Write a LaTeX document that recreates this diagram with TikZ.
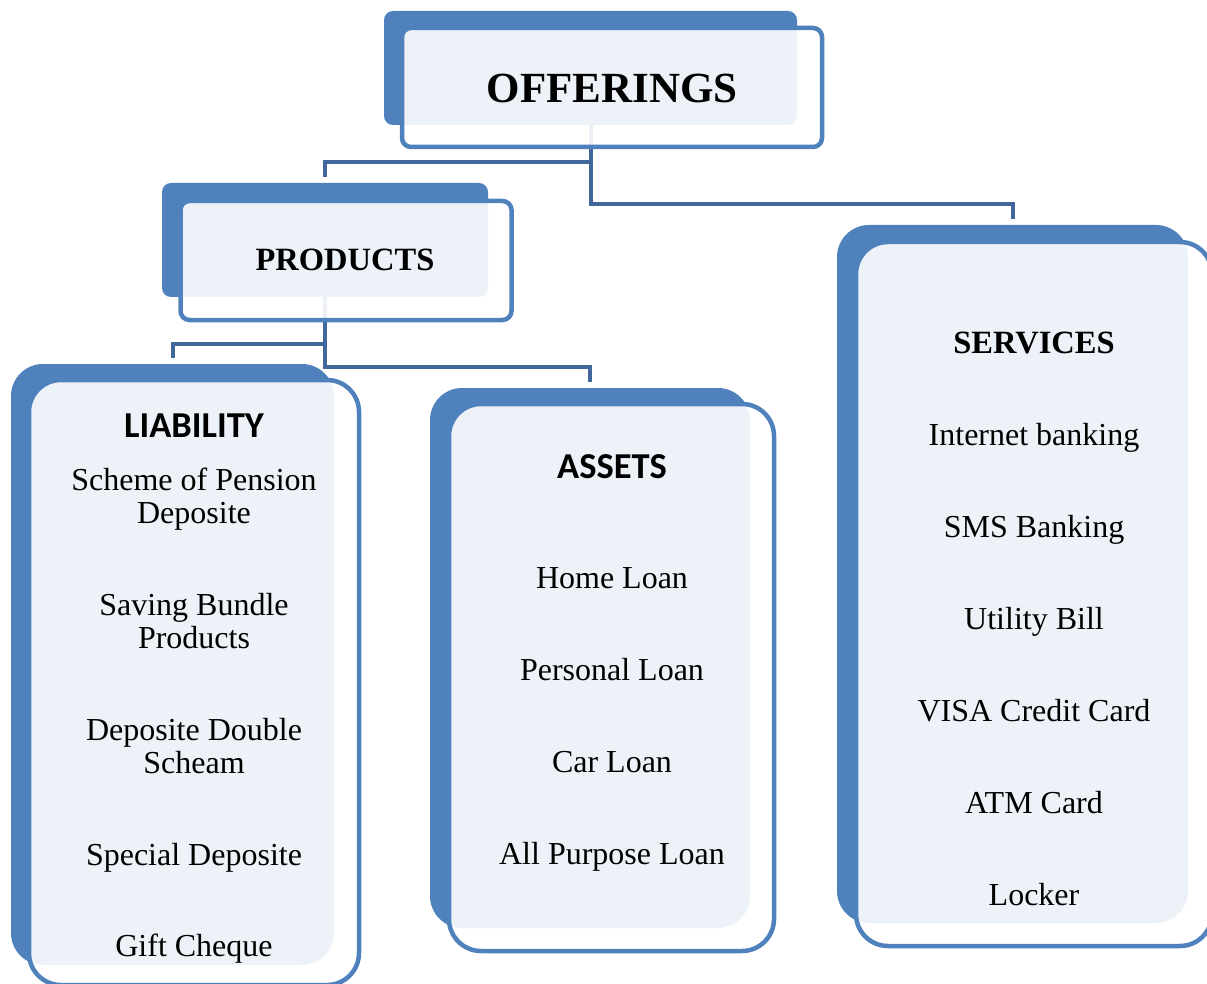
\documentclass[tikz,border=0pt]{standalone}
\usepackage{fontspec}
\setmainfont{Liberation Serif}
\newfontfamily\calibrifont{Carlito}
\usetikzlibrary{calc}
\definecolor{boxblue}{RGB}{79,129,189}
\definecolor{connblue}{RGB}{66,104,155}
\pgfdeclarelayer{bg}
\pgfsetlayers{bg,main}
\begin{document}
\begin{tikzpicture}[x=1pt,y=-1pt,
  backbox/.style={rectangle, fill=boxblue, inner sep=0pt, outer sep=0pt},
  frontbox/.style={rectangle, draw=boxblue, line width=4.5pt, fill=white, fill opacity=0.9, inner sep=0pt, outer sep=0pt},
  smallr/.style={rounded corners=9pt},
  bigr/.style={rounded corners=32pt},
  conn/.style={draw=connblue, line width=4pt},
  item/.style={anchor=base, inner sep=0pt, font=\fontsize{32}{33}\selectfont},
  head/.style={anchor=base, inner sep=0pt, font=\bfseries\fontsize{32.5}{34}\selectfont},
  bighead/.style={anchor=base, inner sep=0pt, font=\bfseries\fontsize{43}{46}\selectfont},
  calhead/.style={anchor=base, inner sep=0pt, font=\calibrifont\bfseries\fontsize{36.5}{40}\selectfont},
]
\useasboundingbox (0,0) rectangle (1207,984);

% OFFERINGS
\node[backbox, smallr, minimum width=413pt, minimum height=114pt] (offB) at (590.5,68) {};
\node[frontbox, smallr, minimum width=420pt, minimum height=119pt] (offF) at (612,87.5) {};
\node[bighead] (offT) at (612,103) {OFFERINGS};

% PRODUCTS
\node[backbox, smallr, minimum width=326pt, minimum height=114pt] (prodB) at (325,240) {};
\node[frontbox, smallr, minimum width=331pt, minimum height=119pt] (prodF) at (346,260.5) {};
\node[head] (prodT) at (345,271) {PRODUCTS};

% LIABILITY
\node[backbox, bigr, minimum width=323pt, minimum height=601pt] (liabB) at (172.5,664.5) {};
\node[frontbox, bigr, minimum width=330pt, minimum height=605pt] (liabF) at (194,682.5) {};
\node[calhead] (liabT) at (194,437.5) {LIABILITY};
\node[item] (l1) at (194,523) {\begin{tabular}[b]{@{}c@{}}Scheme of Pension\\Deposite\end{tabular}};
\node[item] (l2) at (194,648) {\begin{tabular}[b]{@{}c@{}}Saving Bundle\\Products\end{tabular}};
\node[item] (l3) at (194,773) {\begin{tabular}[b]{@{}c@{}}Deposite Double\\Scheam\end{tabular}};
\node[item] (l4) at (194,865.5) {Special Deposite};
\node[item] (l5) at (194,956.5) {Gift Cheque};

% ASSETS
\node[backbox, bigr, minimum width=320pt, minimum height=540pt] (assB) at (590,658) {};
\node[frontbox, bigr, minimum width=325pt, minimum height=547pt] (assF) at (611.5,677.5) {};
\node[calhead] (assT) at (612,478) {ASSETS};
\node[item] (a1) at (612,588.5) {Home Loan};
\node[item] (a2) at (612,680.5) {Personal Loan};
\node[item] (a3) at (612,772.5) {Car Loan};
\node[item] (a4) at (612,864.5) {All Purpose Loan};

% SERVICES
\node[backbox, bigr, minimum width=351pt, minimum height=698pt] (servB) at (1012.5,574) {};
\node[frontbox, bigr, minimum width=356pt, minimum height=704pt] (servF) at (1034,594) {};
\node[head] (servT) at (1034,353) {SERVICES};
\node[item] (s1) at (1034,445.5) {Internet banking};
\node[item] (s2) at (1034,537.5) {SMS Banking};
\node[item] (s3) at (1034,629.5) {Utility Bill};
\node[item] (s4) at (1034,721.5) {VISA Credit Card};
\node[item] (s5) at (1034,813.5) {ATM Card};
\node[item] (s6) at (1034,905.5) {Locker};

% background and connectors (behind the boxes)
\begin{pgfonlayer}{bg}
\fill[white] (0,0) rectangle (1207,984);
\draw[conn] (offB.south) |- ($(prodB.north)+(0,-21)$) -- ($(prodB.north)+(0,-6)$);
\draw[conn] (offB.south) |- ($(servB.north)+(0,-21)$) -- ($(servB.north)+(0,-6)$);
\draw[conn] (prodB.south) |- ($(liabB.north)+(0,-20)$) -- ($(liabB.north)+(0,-6)$);
\draw[conn] (prodB.south) |- ($(assB.north)+(0,-21)$) -- ($(assB.north)+(0,-6)$);
\end{pgfonlayer}
\end{tikzpicture}
\end{document}
